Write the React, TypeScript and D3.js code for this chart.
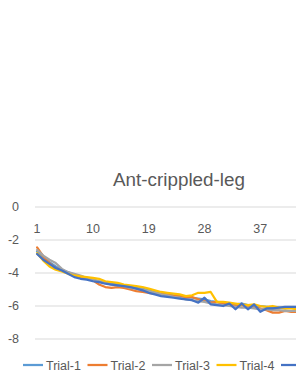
import React from "react";
import * as d3 from "d3";

const title = "Ant-crippled-leg";
const seriesNames = ["Trial-1", "Trial-2", "Trial-3", "Trial-4", "Trial-5"];
const colors = ["#5B9BD5", "#ED7D31", "#A5A5A5", "#FFC000", "#4472C4"];
const yTicks = [0, -2, -4, -6, -8];
const xTickLabels = [1, 10, 19, 28, 37];
const categoryCount = 50;

const trial1 = [-2.7,-3.05,-3.35,-3.6,-3.8,-3.95,-4.1,-4.2,-4.3,-4.4,-4.5,-4.55,-4.6,-4.7,-4.75,-4.8,-4.85,-4.95,-5.05,-5.15,-5.25,-5.3,-5.35,-5.4,-5.45,-5.5,-5.55,-5.6,-5.7,-5.75,-5.8,-5.85,-5.9,-5.85,-5.95,-6.0,-6.0,-6.05,-6.1,-6.1,-6.15,-6.1,-6.1];
const trial2 = [-2.45,-3.0,-3.4,-3.7,-3.85,-4.0,-4.1,-4.25,-4.35,-4.45,-4.7,-4.85,-4.9,-4.85,-4.9,-5.0,-5.1,-5.15,-5.2,-5.25,-5.3,-5.3,-5.4,-5.35,-5.5,-5.45,-5.6,-5.7,-5.8,-5.75,-5.9,-5.85,-6.0,-5.95,-6.05,-6.1,-6.15,-6.25,-6.4,-6.4,-6.3,-6.35,-6.35];
const trial3 = [-2.6,-2.95,-3.2,-3.4,-3.75,-3.95,-4.05,-4.15,-4.3,-4.4,-4.5,-4.6,-4.7,-4.75,-4.8,-4.9,-4.95,-5.0,-5.1,-5.2,-5.3,-5.35,-5.45,-5.5,-5.6,-5.65,-5.7,-5.75,-5.85,-5.9,-5.95,-6.0,-6.05,-6.1,-6.1,-6.15,-6.2,-6.2,-6.25,-6.25,-6.3,-6.3,-6.3];
const trial4 = [-2.8,-3.25,-3.6,-3.8,-3.9,-4.05,-4.15,-4.2,-4.25,-4.3,-4.35,-4.5,-4.55,-4.6,-4.7,-4.75,-4.8,-4.85,-4.95,-5.05,-5.15,-5.2,-5.25,-5.3,-5.4,-5.35,-5.2,-5.2,-5.15,-5.75,-5.75,-5.8,-5.85,-5.9,-5.95,-5.9,-6.0,-6.05,-6.0,-6.1,-6.15,-6.15,-6.2];
const trial5 = [-2.85,-3.2,-3.45,-3.7,-3.85,-4.05,-4.25,-4.35,-4.4,-4.5,-4.55,-4.65,-4.7,-4.75,-4.8,-4.85,-4.95,-5.05,-5.2,-5.3,-5.4,-5.45,-5.5,-5.55,-5.6,-5.65,-5.8,-5.5,-5.9,-5.95,-6.0,-5.85,-6.2,-5.85,-6.2,-5.9,-6.35,-6.15,-6.15,-6.1,-6.05,-6.05,-6.05];

const allSeries = [trial1, trial2, trial3, trial4, trial5];

const W = 296;
const H = 383;
const plotLeft = 34;
const step = 6.2;
const plotRight = plotLeft + categoryCount * step;
const font = "'Liberation Sans', Arial, sans-serif";
const textColor = "#595959";

export default function App() {
  const x = d3.scaleLinear().domain([0.5, categoryCount + 0.5]).range([plotLeft, plotRight]);
  const y = d3.scaleLinear().domain([-8, 0]).range([339, 207]);
  const line = d3
    .line<number>()
    .x((_, i) => x(i + 1))
    .y((d) => y(d));

  return (
    <svg
      width={W}
      height={H}
      style={{ position: "absolute", left: 0, top: 0, background: "#fff" }}
      fontFamily={font}
    >
      <rect x={0} y={0} width={W} height={H} fill="#fff" />
      <text x={179} y={186} textAnchor="middle" fontSize={18} fill={textColor} textLength={132} lengthAdjust="spacingAndGlyphs">
        {title}
      </text>
      {yTicks.map((t) => (
        <g key={t}>
          <line x1={plotLeft + 1} x2={plotRight} y1={y(t)} y2={y(t)} stroke="#D9D9D9" strokeWidth={1} />
          <text x={19} y={y(t)} dy="0.35em" textAnchor="end" fontSize={12.5} fill={textColor}>
            {t}
          </text>
        </g>
      ))}
      {xTickLabels.map((c) => (
        <text key={c} x={x(c)} y={232.5} textAnchor="middle" fontSize={12.5} fill={textColor}>
          {c}
        </text>
      ))}
      {allSeries.map((s, i) => (
        <path
          key={i}
          d={line(s) || ""}
          fill="none"
          stroke={colors[i]}
          strokeWidth={2.25}
          strokeLinejoin="round"
          strokeLinecap="round"
        />
      ))}
      {seriesNames.map((n, i) => {
        const lx = 23 + i * 64.5;
        return (
          <g key={n}>
            <line x1={lx} x2={lx + 20} y1={365} y2={365} stroke={colors[i]} strokeWidth={2.25} />
            {lx + 23 < W ? (
              <text x={lx + 23} y={369.5} fontSize={12.5} fill={textColor}>
                {n}
              </text>
            ) : null}
          </g>
        );
      })}
    </svg>
  );
}
